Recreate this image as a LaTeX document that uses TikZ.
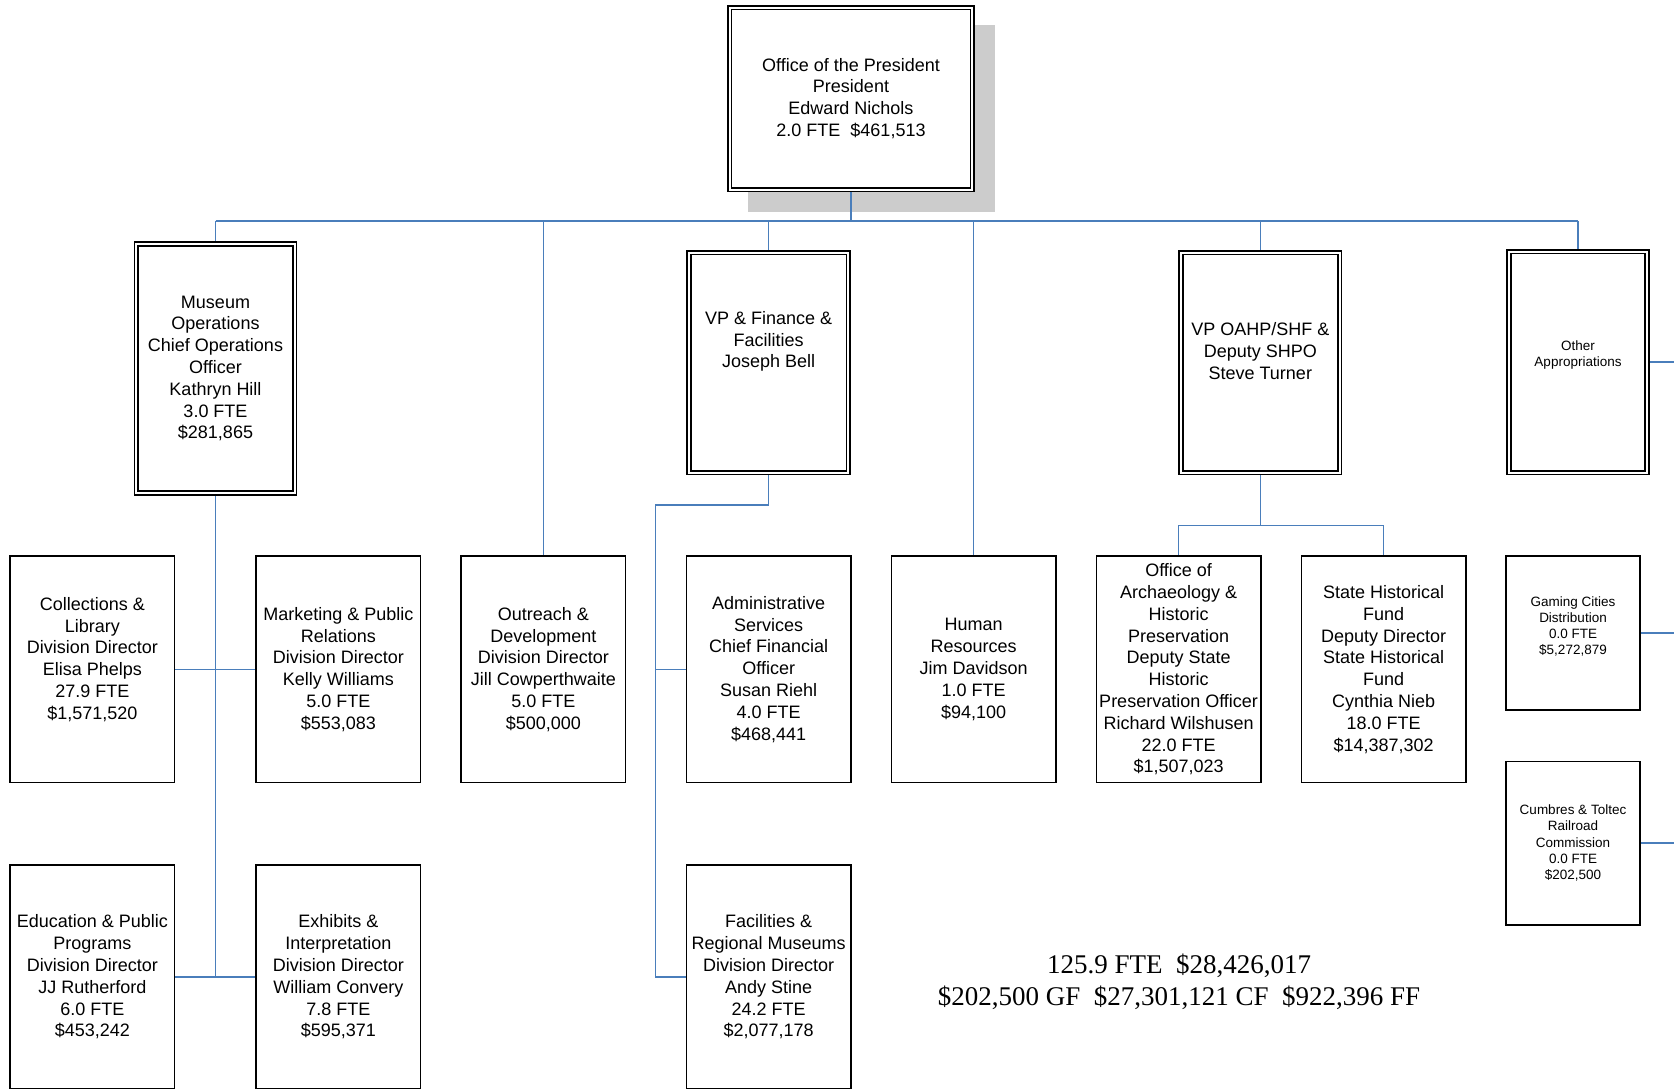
\documentclass[tikz,border=0pt]{standalone}
\usepackage{fontspec}
\setmainfont{Liberation Sans}
\newfontfamily\serifnum{Liberation Serif}
\usetikzlibrary{backgrounds}
\definecolor{connblue}{RGB}{74,126,187}
\definecolor{shadowgray}{RGB}{204,204,204}
\newcommand\boxfont{\fontsize{18}{21.8}\selectfont}
\newcommand\smallboxfont{\fontsize{13.5}{16.2}\selectfont}
\newcommand\sumfont{\serifnum\fontsize{27}{32}\selectfont}
\tikzset{
  conn/.style={draw=connblue, line width=1.5pt},
  dbox/.style={draw, fill=white, double, double distance=2pt, line width=1.6pt, inner sep=0pt, align=center, font=\boxfont},
  sbox/.style={draw, fill=white, line width=1.5pt, inner sep=0pt, align=center, font=\boxfont},
  txt/.style={inner sep=0pt, align=center, font=\boxfont},
  smalltxt/.style={font=\smallboxfont},
  rowtwo/.style={sbox, minimum width=164.4pt, minimum height=226.4pt},
  rowthree/.style={sbox, minimum width=164.4pt, minimum height=224.4pt},
}
\begin{document}
\begin{tikzpicture}[x=1pt, y=-1pt]
\useasboundingbox (0,0) rectangle (1674,1088);
\clip (0,0) rectangle (1674,1088);

% top
\node[dbox, minimum width=242.5pt, minimum height=182pt] (pres) at (851,98.5)
  {Office of the President\\President\\Edward Nichols\\2.0 FTE~ \$461,513};

% row 1
\node[dbox, minimum width=158.5pt, minimum height=249pt] (mus) at (215.5,368.5)
  {Museum\\Operations\\Chief Operations\\Officer\\Kathryn Hill\\3.0 FTE\\\$281,865};
\node[dbox, minimum width=159.5pt, minimum height=220pt] (vpf) at (768.7,362.5) {};
\node[txt] (vpft) at ([yshift=21pt]vpf.center) {VP \& Finance \&\\Facilities\\Joseph Bell};
\node[dbox, minimum width=158.5pt, minimum height=220pt] (oahp) at (1260.3,362.5) {};
\node[txt] (oahpt) at ([yshift=11.5pt]oahp.center) {VP OAHP/SHF \&\\Deputy SHPO\\Steve Turner};
\node[dbox, minimum width=138pt, minimum height=221pt] (other) at (1578,362) {};
\node[txt, smalltxt] (othert) at ([yshift=7pt]other.center) {Other\\Appropriations};

% row 2
\node[rowtwo] (coll) at (92.3,669.4) {};
\node[txt] (collt) at ([yshift=10pt]coll.center)
  {Collections \&\\Library\\Division Director\\Elisa Phelps\\27.9 FTE\\\$1,571,520};
\node[rowtwo] (mkt) at (338.4,669.4)
  {Marketing \& Public\\Relations\\Division Director\\Kelly Williams\\5.0 FTE\\\$553,083};
\node[rowtwo] (outr) at (543.4,669.4)
  {Outreach \&\\Development\\Division Director\\Jill Cowperthwaite\\5.0 FTE\\\$500,000};
\node[rowtwo] (adm) at (768.7,669.4)
  {Administrative\\Services\\Chief Financial\\Officer\\Susan Riehl\\4.0 FTE\\\$468,441};
\node[rowtwo] (hr) at (973.7,669.4)
  {Human\\Resources\\Jim Davidson\\1.0 FTE\\\$94,100};
\node[rowtwo] (arch) at (1178.6,669.4)
  {Office of\\Archaeology \&\\Historic\\Preservation\\Deputy State\\Historic\\Preservation Officer\\Richard Wilshusen\\22.0 FTE\\\$1,507,023};
\node[rowtwo] (shf) at (1383.6,669.4)
  {State Historical\\Fund\\Deputy Director\\State Historical\\Fund\\Cynthia Nieb\\18.0 FTE\\\$14,387,302};

% right column
\node[sbox, minimum width=134pt, minimum height=154pt] (gam) at (1573,633) {};
\node[txt, smalltxt] (gamt) at ([yshift=6.5pt]gam.center)
  {Gaming Cities\\Distribution\\0.0 FTE\\\$5,272,879};
\node[sbox, smalltxt, minimum width=134pt, minimum height=163.5pt] (cum) at (1573,843)
  {Cumbres \& Toltec\\Railroad\\Commission\\0.0 FTE\\\$202,500};

% row 3
\node[rowthree] (edu) at (92.3,977)
  {Education \& Public\\Programs\\Division Director\\JJ Rutherford\\6.0 FTE\\\$453,242};
\node[rowthree] (exh) at (338.4,977)
  {Exhibits \&\\Interpretation\\Division Director\\William Convery\\7.8 FTE\\\$595,371};
\node[rowthree] (fac) at (768.7,977)
  {Facilities \&\\Regional Museums\\Division Director\\Andy Stine\\24.2 FTE\\\$2,077,178};

% totals
\node[inner sep=0pt, align=center, font=\sumfont] (tot) at (1179,982)
  {125.9 FTE~ \$28,426,017\\\$202,500 GF~ \$27,301,121 CF~ \$922,396 FF};

\coordinate (busl) at (215.5,221);
\coordinate (vpfk) at (655.5,505);
\coordinate (oj) at (1260.3,525.3);
\coordinate (redge) at (1674,0);

\begin{pgfonlayer}{background}
  \fill[shadowgray] (748,25) rectangle (995,212);
  \draw[conn] (pres.south) -- (pres.south |- busl);
  \draw[conn] (mus.north |- busl) -- (other.north |- busl);
  \foreach \n in {mus,vpf,oahp,other,outr,hr}
    \draw[conn] (\n.north |- busl) -- (\n.north);
  \draw[conn] (mus.south) -- (mus.south |- edu.east);
  \draw[conn] (coll.east) -- (mkt.west);
  \draw[conn] (edu.east) -- (exh.west);
  \draw[conn] (vpf.south) -- (vpf.south |- vpfk) -- (vpfk) -- (vpfk |- fac.west) -- (fac.west);
  \draw[conn] (vpfk |- adm.west) -- (adm.west);
  \draw[conn] (oahp.south) -- (oj);
  \draw[conn] (arch.north) -- (arch.north |- oj) -- (shf.north |- oj) -- (shf.north);
  \draw[conn] (other.east) -- (other.east -| redge);
  \draw[conn] (gam.east) -- (gam.east -| redge);
  \draw[conn] (cum.east) -- (cum.east -| redge);
\end{pgfonlayer}
\end{tikzpicture}
\end{document}
